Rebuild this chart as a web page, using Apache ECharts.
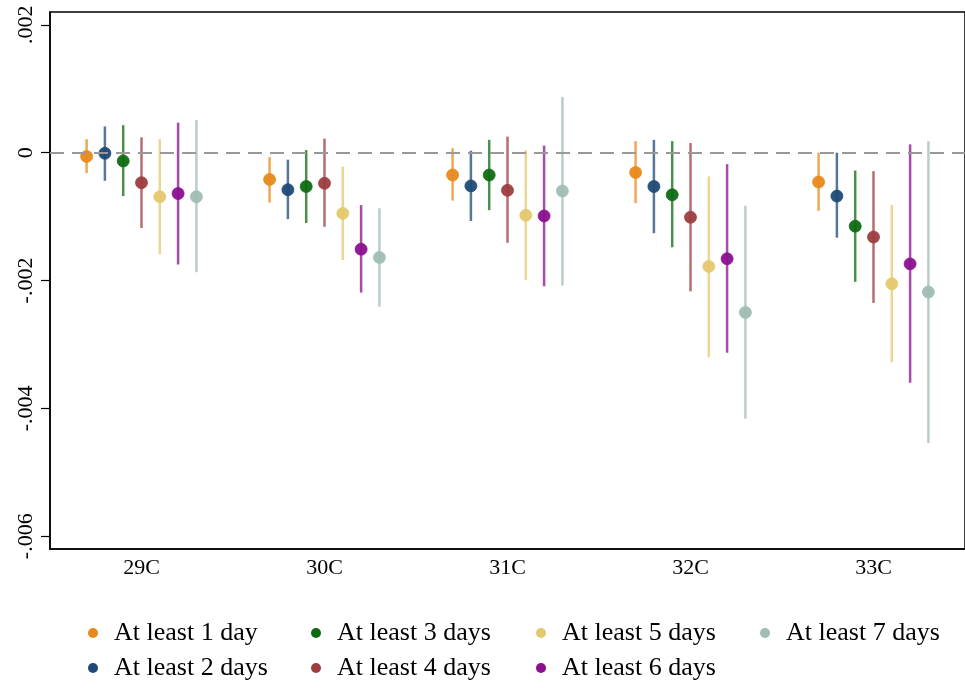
<!DOCTYPE html>
<html>
<head>
<meta charset="utf-8">
<script src="https://cdn.jsdelivr.net/npm/echarts@6/dist/echarts.min.js"></script>
<style>
html,body{margin:0;padding:0;background:#fff;}
#chart{width:965px;height:688px;}
</style>
</head>
<body>
<div id="chart"></div>
<script>
const categories = ['29C', '30C', '31C', '32C', '33C'];
const seriesNames = ['At least 1 day', 'At least 2 days', 'At least 3 days', 'At least 4 days', 'At least 5 days', 'At least 6 days', 'At least 7 days'];
const yTicks = [-0.006, -0.004, -0.002, 0, 0.002];

// point estimates
const est1 = [-0.00006, -0.00042, -0.00035, -0.00031, -0.00046];
const est2 = [-0.00001, -0.00058, -0.00052, -0.00053, -0.00068];
const est3 = [-0.00013, -0.00053, -0.00035, -0.00066, -0.00115];
const est4 = [-0.00047, -0.00048, -0.00059, -0.00101, -0.00132];
const est5 = [-0.00069, -0.00095, -0.00098, -0.00178, -0.00205];
const est6 = [-0.00064, -0.00151, -0.00099, -0.00166, -0.00174];
const est7 = [-0.00069, -0.00164, -0.00060, -0.00250, -0.00218];

// lower bounds
const lo1 = [-0.00032, -0.00078, -0.00075, -0.00079, -0.00091];
const lo2 = [-0.00044, -0.00104, -0.00107, -0.00126, -0.00133];
const lo3 = [-0.00068, -0.00110, -0.00090, -0.00148, -0.00202];
const lo4 = [-0.00118, -0.00116, -0.00141, -0.00217, -0.00235];
const lo5 = [-0.00159, -0.00168, -0.00199, -0.00320, -0.00328];
const lo6 = [-0.00175, -0.00219, -0.00209, -0.00313, -0.00360];
const lo7 = [-0.00187, -0.00241, -0.00208, -0.00416, -0.00454];

// upper bounds
const hi1 = [0.00021, -0.00007, 0.00007, 0.00018, 0.00000];
const hi2 = [0.00041, -0.00011, 0.00003, 0.00020, 0.00000];
const hi3 = [0.00043, 0.00004, 0.00020, 0.00018, -0.00028];
const hi4 = [0.00024, 0.00022, 0.00025, 0.00015, -0.00029];
const hi5 = [0.00021, -0.00022, 0.00004, -0.00037, -0.00082];
const hi6 = [0.00047, -0.00082, 0.00011, -0.00018, 0.00013];
const hi7 = [0.00051, -0.00087, 0.00087, -0.00083, 0.00018];

const colors = ['#E8891B', '#1E4A75', '#0E6B12', '#9C3D40', '#E4C86E', '#8A108F', '#9FBDB3'];

const ests = [est1, est2, est3, est4, est5, est6, est7];
const los = [lo1, lo2, lo3, lo4, lo5, lo6, lo7];
const his = [hi1, hi2, hi3, hi4, hi5, hi6, hi7];

const FONT = "'Liberation Serif', 'Times New Roman', serif";

function fmtTick(v) {
  if (Math.abs(v) < 1e-12) return '0';
  const s = Math.abs(v).toFixed(3).replace(/^0/, '');
  return (v < 0 ? '-' : '') + s;
}

function makeRender(k) {
  return function (params, api) {
    const cat = api.value(0);
    const band = api.size([1, 0])[0];
    const off = (k - 3) * band * 0.1;
    const p = api.coord([cat, api.value(3)]);
    const l = api.coord([cat, api.value(1)]);
    const h = api.coord([cat, api.value(2)]);
    const x = p[0] + off;
    return {
      type: 'group',
      children: [
        {
          type: 'line',
          shape: { x1: x, y1: l[1], x2: x, y2: h[1] },
          style: { stroke: colors[k], lineWidth: 2.5, opacity: 0.75 }
        },
        {
          type: 'circle',
          shape: { cx: x, cy: p[1], r: 6 },
          style: { fill: colors[k], stroke: colors[k], lineWidth: 0.8, opacity: 0.95 }
        }
      ]
    };
  };
}

const series = seriesNames.map(function (name, k) {
  return {
    name: name,
    type: 'custom',
    renderItem: makeRender(k),
    itemStyle: { color: colors[k] },
    encode: { x: 0, y: [1, 2, 3] },
    data: categories.map(function (c, i) { return [i, los[k][i], his[k][i], ests[k][i]]; }),
    z: 3
  };
});

// zero reference line
series.unshift({
  name: 'zero',
  type: 'line',
  data: [],
  silent: true,
  z: 1,
  markLine: {
    silent: true,
    symbol: ['none', 'none'],
    label: { show: false },
    emphasis: { disabled: true },
    lineStyle: { color: '#999999', type: [14, 8], width: 2, opacity: 1 },
    data: [{ yAxis: 0 }]
  }
});

const legendCols = [
  [seriesNames[0], seriesNames[1]],
  [seriesNames[2], seriesNames[3]],
  [seriesNames[4], seriesNames[5]],
  [seriesNames[6]]
];
const legendLefts = [88, 311, 536, 760];

const legends = legendCols.map(function (d, i) {
  return {
    data: d,
    orient: 'vertical',
    left: legendLefts[i],
    top: 620,
    itemGap: 9,
    itemWidth: 32,
    itemHeight: 10,
    icon: 'circle',
    selectedMode: false,
    padding: 0,
    textStyle: { fontFamily: FONT, fontSize: 26, color: '#000' }
  };
});

const option = {
  animation: false,
  backgroundColor: '#fff',
  grid: {
    left: 50, top: 12, width: 922, height: 537,
    show: true, borderColor: '#000', borderWidth: 1.5, backgroundColor: 'transparent'
  },
  legend: legends,
  xAxis: {
    type: 'category',
    data: categories,
    boundaryGap: true,
    axisLine: { onZero: false, lineStyle: { color: '#000', width: 1.5 } },
    axisTick: { alignWithLabel: true, length: 9, lineStyle: { color: '#000', width: 1.2 } },
    axisLabel: { fontFamily: FONT, fontSize: 22, color: '#000', margin: 8 },
    splitLine: { show: false }
  },
  yAxis: {
    type: 'value',
    min: -0.0062,
    max: 0.0022,
    axisLine: { show: true, onZero: false, lineStyle: { color: '#000', width: 1.5 } },
    axisTick: { show: true, length: 9, customValues: yTicks, lineStyle: { color: '#000', width: 1.2 } },
    axisLabel: {
      customValues: yTicks,
      rotate: 90,
      fontFamily: FONT, fontSize: 22, color: '#000', margin: 13,
      formatter: fmtTick
    },
    splitLine: { show: false }
  },
  series: series
};

const chart = echarts.init(document.getElementById('chart'), null, { renderer: 'canvas' });
chart.setOption(option);
</script>
</body>
</html>
